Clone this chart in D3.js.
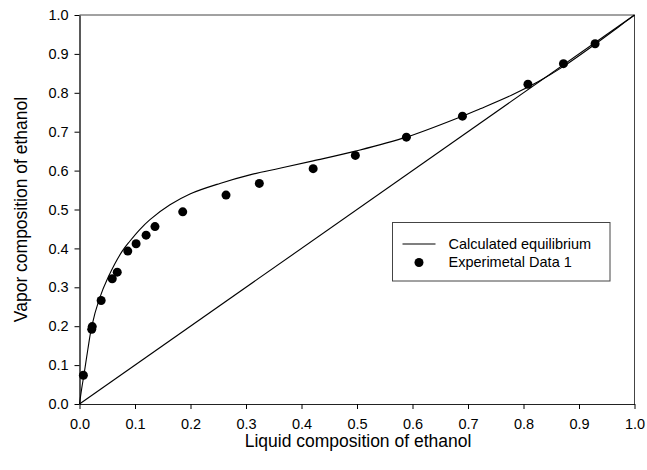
<!DOCTYPE html>
<html>
<head>
<meta charset="utf-8">
<script src="https://cdn.jsdelivr.net/npm/d3@7"></script>
<style>
    body { margin: 0; background: #fff; }
    text { font-family: "Liberation Sans", Arial, sans-serif; fill: #000; }
</style>
</head>
<body>
<script>
// Experimental x-y points (liquid vs vapor mole fraction of ethanol)
var expX = [0.007, 0.022, 0.023, 0.039, 0.059, 0.068, 0.087, 0.102, 0.120,
            0.136, 0.186, 0.264, 0.324, 0.421, 0.497, 0.589, 0.690, 0.808,
            0.872, 0.929];
var expY = [0.074, 0.192, 0.199, 0.266, 0.322, 0.339, 0.393, 0.412, 0.434,
            0.456, 0.494, 0.537, 0.567, 0.605, 0.639, 0.686, 0.740, 0.822,
            0.875, 0.926];

// Calculated equilibrium curve
var calcX = [0, 0.004, 0.008, 0.015, 0.022, 0.035, 0.052, 0.077, 0.091,
             0.109, 0.127, 0.163, 0.199, 0.253, 0.307, 0.361, 0.421, 0.497,
             0.589, 0.690, 0.722, 0.780, 0.827, 0.870, 0.930, 0.970, 1.0];
var calcY = [0, 0.040, 0.075, 0.140, 0.199, 0.267, 0.327, 0.393, 0.419,
             0.449, 0.474, 0.512, 0.540, 0.567, 0.589, 0.606, 0.625, 0.650,
             0.686, 0.740, 0.759, 0.795, 0.829, 0.866, 0.926, 0.968, 1.0];

// y = x reference line
var diagX = [0, 1];

var ticks = [0, 0.1, 0.2, 0.3, 0.4, 0.5, 0.6, 0.7, 0.8, 0.9, 1.0];

var margin = {top: 15, right: 12.5, bottom: 66, left: 79.5},
    width = 647 - margin.left - margin.right,
    height = 470 - margin.top - margin.bottom;

var svg = d3.select("body").append("svg")
    .attr("width", 647)
    .attr("height", 470)
    .append("g")
    .attr("transform", "translate(" + margin.left + "," + margin.top + ")");

var xScale = d3.scaleLinear().domain([0, 1]).range([0, width]);
var yScale = d3.scaleLinear().domain([0, 1]).range([height, 0]);

// frame (top and right)
svg.append("path")
    .attr("d", "M0,0H" + width + "V" + height)
    .attr("fill", "none")
    .attr("stroke", "#444")
    .attr("stroke-width", 1);

var xAxis = d3.axisBottom(xScale).tickValues(ticks)
    .tickFormat(d3.format(".1f")).tickSize(5).tickSizeOuter(0);
var yAxis = d3.axisLeft(yScale).tickValues(ticks)
    .tickFormat(d3.format(".1f")).tickSize(5).tickSizeOuter(0);

var gx = svg.append("g")
    .attr("transform", "translate(0," + height + ")")
    .call(xAxis);
gx.select(".domain").attr("stroke", "#222");
gx.selectAll("text").attr("font-size", "14.5px").attr("dy", "1.2em")
    .style("font-family", "Liberation Sans, Arial, sans-serif");

var gy = svg.append("g").call(yAxis);
gy.select(".domain").attr("stroke", "#000").attr("stroke-width", 1.3);
gy.selectAll("text").attr("font-size", "14.5px").attr("dx", "-0.2em")
    .style("font-family", "Liberation Sans, Arial, sans-serif");

// diagonal
var line = d3.line()
    .x(function(d) { return xScale(d[0]); })
    .y(function(d) { return yScale(d[1]); });

svg.append("path")
    .datum(diagX.map(function(v) { return [v, v]; }))
    .attr("d", line)
    .attr("fill", "none")
    .attr("stroke", "#000")
    .attr("stroke-width", 1.1);

// calculated curve
svg.append("path")
    .datum(calcX.map(function(v, i) { return [v, calcY[i]]; }))
    .attr("d", line.curve(d3.curveCatmullRom.alpha(0.5)))
    .attr("fill", "none")
    .attr("stroke", "#000")
    .attr("stroke-width", 1.1);

// experimental points
svg.selectAll("circle.pt")
    .data(expX.map(function(v, i) { return [v, expY[i]]; }))
    .enter()
    .append("circle")
    .attr("class", "pt")
    .attr("cx", function(d) { return xScale(d[0]); })
    .attr("cy", function(d) { return yScale(d[1]); })
    .attr("r", 4.5)
    .attr("fill", "#000");

// axis titles
svg.append("text")
    .attr("x", width / 2 + 1)
    .attr("y", height + 43)
    .attr("text-anchor", "middle")
    .attr("font-size", "17.5px")
    .text("Liquid composition of ethanol");

svg.append("text")
    .attr("transform", "rotate(-90)")
    .attr("x", -height / 2)
    .attr("y", -52.5)
    .attr("text-anchor", "middle")
    .attr("font-size", "17.5px")
    .text("Vapor composition of ethanol");

// legend
var lg = svg.append("g")
    .attr("transform", "translate(" + (392.5 - margin.left) + "," +
          (222.5 - margin.top) + ")");
lg.append("rect")
    .attr("width", 217.5)
    .attr("height", 58.5)
    .attr("fill", "#fff")
    .attr("stroke", "#444");
lg.append("line")
    .attr("x1", 10).attr("x2", 43)
    .attr("y1", 21.5).attr("y2", 21.5)
    .attr("stroke", "#000").attr("stroke-width", 1.1);
lg.append("circle")
    .attr("cx", 26.5).attr("cy", 40)
    .attr("r", 4.5).attr("fill", "#000");
lg.append("text")
    .attr("x", 56).attr("y", 26)
    .attr("font-size", "14.5px")
    .text("Calculated equilibrium");
lg.append("text")
    .attr("x", 56).attr("y", 44.5)
    .attr("font-size", "14.5px")
    .text("Experimetal Data 1");
</script>
</body>
</html>
